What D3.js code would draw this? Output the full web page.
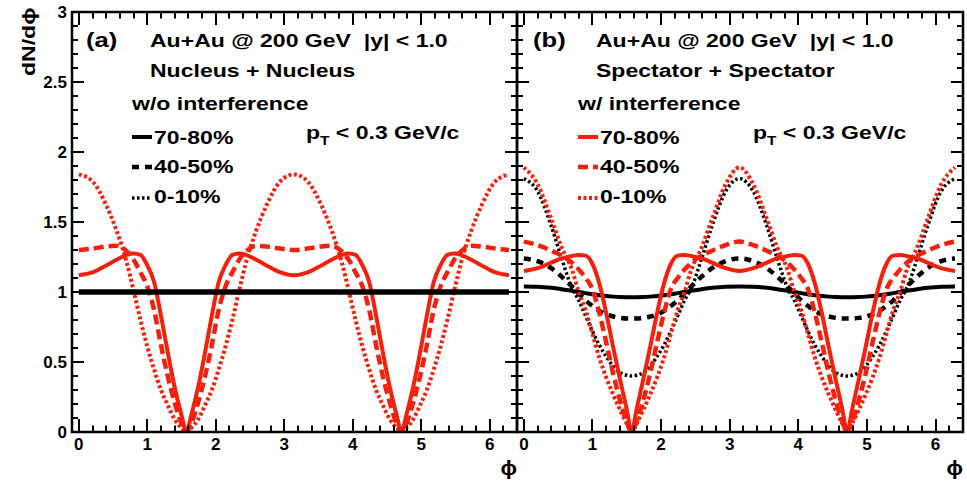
<!DOCTYPE html>
<html>
<head>
<meta charset="utf-8">
<script src="https://cdn.jsdelivr.net/npm/d3@7"></script>
<style>
  body { margin: 0; background: #fff; }
  svg { display: block; }
  text { font-family: "Liberation Sans", Arial, Helvetica, sans-serif; font-weight: bold; fill: #000; white-space: pre; }
</style>
</head>
<body>
<svg id="chart"></svg>
<script>
// phi grid (rad) the curves were read at
const phi = [0, 0.2, 0.4, 0.55, 0.7, 0.8, 0.9, 1.0, 1.1, 1.2, 1.3, 1.4, 1.5, 1.571,
  1.642, 1.742, 1.842, 1.942, 2.042, 2.142, 2.242, 2.342, 2.442, 2.592, 2.742, 2.942, 3.142,
  3.342, 3.542, 3.692, 3.842, 3.942, 4.042, 4.142, 4.242, 4.342, 4.442, 4.542, 4.642, 4.712,
  4.783, 4.883, 4.983, 5.083, 5.183, 5.283, 5.383, 5.483, 5.583, 5.733, 5.883, 6.083, 6.283]

// panel (a) Nucleus + Nucleus
const aFlat = [1, 1, 1, 1, 1, 1, 1, 1, 1, 1, 1, 1, 1, 1,
  1, 1, 1, 1, 1, 1, 1, 1, 1, 1, 1, 1, 1,
  1, 1, 1, 1, 1, 1, 1, 1, 1, 1, 1, 1, 1,
  1, 1, 1, 1, 1, 1, 1, 1, 1, 1, 1, 1, 1]
const aInt7080 = [1.12, 1.14, 1.19, 1.23, 1.265, 1.275, 1.265, 1.19, 1.07, 0.83, 0.565, 0.32, 0.12, 0,
  0.12, 0.32, 0.565, 0.83, 1.07, 1.19, 1.265, 1.275, 1.265, 1.23, 1.19, 1.14, 1.12,
  1.14, 1.19, 1.23, 1.265, 1.275, 1.265, 1.19, 1.07, 0.83, 0.565, 0.32, 0.12, 0,
  0.12, 0.32, 0.565, 0.83, 1.07, 1.19, 1.265, 1.275, 1.265, 1.23, 1.19, 1.14, 1.12]
const aInt4050 = [1.30, 1.31, 1.325, 1.33, 1.29, 1.23, 1.14, 1.04, 0.87, 0.62, 0.395, 0.21, 0.06, 0,
  0.06, 0.21, 0.395, 0.62, 0.87, 1.04, 1.14, 1.23, 1.29, 1.33, 1.325, 1.31, 1.30,
  1.31, 1.325, 1.33, 1.29, 1.23, 1.14, 1.04, 0.87, 0.62, 0.395, 0.21, 0.06, 0,
  0.06, 0.21, 0.395, 0.62, 0.87, 1.04, 1.14, 1.23, 1.29, 1.33, 1.325, 1.31, 1.30]
const aInt010 = [1.84, 1.79, 1.62, 1.44, 1.21, 1.01, 0.80, 0.61, 0.445, 0.30, 0.19, 0.09, 0.03, 0,
  0.03, 0.09, 0.19, 0.30, 0.445, 0.61, 0.80, 1.01, 1.21, 1.44, 1.62, 1.79, 1.84,
  1.79, 1.62, 1.44, 1.21, 1.01, 0.80, 0.61, 0.445, 0.30, 0.19, 0.09, 0.03, 0,
  0.03, 0.09, 0.19, 0.30, 0.445, 0.61, 0.80, 1.01, 1.21, 1.44, 1.62, 1.79, 1.84]

// panel (b) Spectator + Spectator
const bNo7080 = [1.04, 1.038, 1.03, 1.02, 1.008, 1.0, 0.992, 0.984, 0.977, 0.971, 0.967, 0.964, 0.963, 0.963,
  0.963, 0.964, 0.967, 0.971, 0.977, 0.984, 0.992, 1.0, 1.008, 1.02, 1.03, 1.038, 1.04,
  1.038, 1.03, 1.02, 1.008, 1.0, 0.992, 0.984, 0.977, 0.971, 0.967, 0.964, 0.963, 0.963,
  0.963, 0.964, 0.967, 0.971, 0.977, 0.984, 0.992, 1.0, 1.008, 1.02, 1.03, 1.038, 1.04]
const bNo4050 = [1.24, 1.22, 1.17, 1.11, 1.04, 0.99, 0.94, 0.90, 0.865, 0.84, 0.825, 0.815, 0.81, 0.81,
  0.81, 0.815, 0.825, 0.84, 0.865, 0.90, 0.94, 0.99, 1.04, 1.11, 1.17, 1.22, 1.24,
  1.22, 1.17, 1.11, 1.04, 0.99, 0.94, 0.90, 0.865, 0.84, 0.825, 0.815, 0.81, 0.81,
  0.81, 0.815, 0.825, 0.84, 0.865, 0.90, 0.94, 0.99, 1.04, 1.11, 1.17, 1.22, 1.24]
const bNo010 = [1.81, 1.72, 1.47, 1.24, 1.03, 0.94, 0.83, 0.72, 0.62, 0.54, 0.47, 0.425, 0.405, 0.40,
  0.405, 0.425, 0.47, 0.54, 0.62, 0.72, 0.83, 0.94, 1.03, 1.24, 1.47, 1.72, 1.81,
  1.72, 1.47, 1.24, 1.03, 0.94, 0.83, 0.72, 0.62, 0.54, 0.47, 0.425, 0.405, 0.40,
  0.405, 0.425, 0.47, 0.54, 0.62, 0.72, 0.83, 0.94, 1.03, 1.24, 1.47, 1.72, 1.81]
const bInt7080 = [1.15, 1.17, 1.21, 1.24, 1.257, 1.265, 1.26, 1.20, 1.06, 0.85, 0.61, 0.38, 0.16, 0,
  0.16, 0.38, 0.61, 0.85, 1.06, 1.20, 1.26, 1.265, 1.257, 1.24, 1.21, 1.17, 1.15,
  1.17, 1.21, 1.24, 1.257, 1.265, 1.26, 1.20, 1.06, 0.85, 0.61, 0.38, 0.16, 0,
  0.16, 0.38, 0.61, 0.85, 1.06, 1.20, 1.26, 1.265, 1.257, 1.24, 1.21, 1.17, 1.15]
const bInt4050 = [1.36, 1.335, 1.295, 1.26, 1.21, 1.16, 1.10, 1.02, 0.85, 0.64, 0.42, 0.23, 0.07, 0,
  0.07, 0.23, 0.42, 0.64, 0.85, 1.02, 1.10, 1.16, 1.21, 1.26, 1.295, 1.335, 1.36,
  1.335, 1.295, 1.26, 1.21, 1.16, 1.10, 1.02, 0.85, 0.64, 0.42, 0.23, 0.07, 0,
  0.07, 0.23, 0.42, 0.64, 0.85, 1.02, 1.10, 1.16, 1.21, 1.26, 1.295, 1.335, 1.36]
const bInt010 = [1.89, 1.77, 1.52, 1.32, 1.16, 1.0, 0.87, 0.70, 0.53, 0.39, 0.27, 0.16, 0.06, 0,
  0.06, 0.16, 0.27, 0.39, 0.53, 0.70, 0.87, 1.0, 1.16, 1.32, 1.52, 1.77, 1.89,
  1.77, 1.52, 1.32, 1.16, 1.0, 0.87, 0.70, 0.53, 0.39, 0.27, 0.16, 0.06, 0,
  0.06, 0.16, 0.27, 0.39, 0.53, 0.70, 0.87, 1.0, 1.16, 1.32, 1.52, 1.77, 1.89]

const legendLabels = ['70-80%', '40-50%', '0-10%']
const yTicks = [0, 0.5, 1, 1.5, 2, 2.5, 3]
const xTicks = [0, 1, 2, 3, 4, 5, 6]

const width = 967
const height = 482
const yTop = 12, yBottom = 432
const red = '#f4200c'
const sx = 1.28  // the text in the figure is drawn wide

const styles = {
  solid: {w: 4, dash: null},
  dash: {w: 4.5, dash: '10,5'},
  dot: {w: 4, dash: '3,2.5'},
  bdash: {w: 4.5, dash: '7,6'},
  bdot: {w: 3.5, dash: '2.5,2.5'},
  flat: {w: 5.5, dash: null}
}

const panels = [
  {
    left: 72, right: 517, tag: '(a)', line2: 'Nucleus + Nucleus', line3: 'w/o interference',
    tagX: 86, txtX: 150, l3X: 132, legX: 132, ptX: 306, yLabels: true,
    legend: [['#000', 'solid'], ['#000', 'bdash'], ['#000', 'bdot']],
    series: [
      {v: aInt7080, c: red, s: 'solid'},
      {v: aInt4050, c: red, s: 'dash'},
      {v: aInt010, c: red, s: 'dot'},
      {v: aFlat, c: '#000', s: 'flat'}
    ]
  },
  {
    left: 517, right: 963, tag: '(b)', line2: 'Spectator + Spectator', line3: 'w/ interference',
    tagX: 533, txtX: 596, l3X: 578, legX: 578, ptX: 753, yLabels: false,
    legend: [[red, 'solid'], [red, 'dash'], [red, 'dot']],
    series: [
      {v: bNo7080, c: '#000', s: 'solid'},
      {v: bNo4050, c: '#000', s: 'bdash'},
      {v: bNo010, c: '#000', s: 'bdot'},
      {v: bInt7080, c: red, s: 'solid'},
      {v: bInt4050, c: red, s: 'dash'},
      {v: bInt010, c: red, s: 'dot'}
    ]
  }
]

const svg = d3.select('#chart').attr('width', width).attr('height', height)

const y = d3.scaleLinear().domain([0, 3]).range([yBottom, yTop])

function wideText(g, x, yy, str, size) {
  return g.append('text')
    .attr('transform', `translate(${x},${yy}) scale(${sx},1)`)
    .attr('font-size', size)
    .text(str)
}

panels.forEach((p, pi) => {
  const x = d3.scaleLinear().domain([-0.1, 6.4]).range([p.left, p.right])
  const g = svg.append('g')

  const clipId = 'clip' + pi
  svg.append('clipPath').attr('id', clipId).append('rect')
    .attr('x', p.left).attr('y', yTop).attr('width', p.right - p.left).attr('height', yBottom - yTop)

  // curves
  const line = d3.line()
    .x(d => x(d[0]))
    .y(d => y(d[1]))
    .curve(d3.curveMonotoneX)

  g.append('g').attr('clip-path', `url(#${clipId})`)
    .selectAll('path').data(p.series).enter().append('path')
    .attr('d', d => line(d3.zip(phi, d.v)))
    .attr('fill', 'none')
    .attr('stroke', d => d.c)
    .attr('stroke-width', d => styles[d.s].w)
    .attr('stroke-dasharray', d => styles[d.s].dash)

  // tick labels
  g.selectAll('text.xl').data(xTicks).enter().append('text')
    .attr('x', d => x(d)).attr('y', 450)
    .attr('text-anchor', 'middle').attr('font-size', 17)
    .text(d3.format('d'))
  if (p.yLabels) {
    g.selectAll('text.yl').data(yTicks).enter().append('text')
      .attr('x', p.left - 5).attr('y', d => y(d)).attr('dy', '0.36em')
      .attr('text-anchor', 'end').attr('font-size', 17)
      .text(d3.format('~g'))
  }

  // frame
  g.append('rect')
    .attr('x', p.left).attr('y', yTop)
    .attr('width', p.right - p.left).attr('height', yBottom - yTop)
    .attr('fill', 'none').attr('stroke', '#000').attr('stroke-width', 2.5)

  // ticks, ROOT style (inside, on all four sides), one path
  const minorX = d3.range(0, 6.41, 0.2).filter(v => Math.abs(v - Math.round(v)) > 0.01)
  const minorY = d3.range(0, 3.01, 0.1).filter(v => Math.abs(v * 2 - Math.round(v * 2)) > 0.01)
  const tp = d3.path()
  xTicks.map(v => [v, 13]).concat(minorX.map(v => [v, 6.5])).forEach(([v, len]) => {
    const px = Math.round(x(v))
    tp.moveTo(px, yBottom); tp.lineTo(px, yBottom - len)
    tp.moveTo(px, yTop); tp.lineTo(px, yTop + len)
  })
  yTicks.map(v => [v, 12]).concat(minorY.map(v => [v, 6])).forEach(([v, len]) => {
    const py = Math.round(y(v))
    tp.moveTo(p.left, py); tp.lineTo(p.left + len, py)
    tp.moveTo(p.right, py); tp.lineTo(p.right - len, py)
  })
  g.append('path')
    .attr('d', tp.toString())
    .attr('fill', 'none')
    .attr('stroke', '#000')
    .attr('stroke-width', 2)

  // x axis title
  g.append('text')
    .attr('x', p.right).attr('y', 475)
    .attr('text-anchor', 'end').attr('font-size', 20)
    .attr('transform', `translate(${p.right},0) scale(1.1,1) translate(${-p.right},0)`)
    .text('ϕ')

  // labels inside the frame
  wideText(g, p.tagX, 47, p.tag, 20)
  wideText(g, p.txtX, 47, 'Au+Au @ 200 GeV  |y| < 1.0', 18)
  wideText(g, p.txtX, 77, p.line2, 18)
  wideText(g, p.l3X, 110, p.line3, 18)

  const pt = g.append('text')
    .attr('transform', `translate(${p.ptX},139) scale(${sx},1)`)
    .attr('font-size', 18)
  pt.append('tspan').text('p')
  pt.append('tspan').attr('font-size', 12).attr('dy', 6).text('T')
  pt.append('tspan').attr('dy', -6).text(' < 0.3 GeV/c')

  // legend
  const legY = [137, 167, 198]
  const legBase = [144, 173, 203]
  p.legend.forEach(([c, s], i) => {
    g.append('line')
      .attr('x1', p.legX).attr('x2', p.legX + 20)
      .attr('y1', legY[i]).attr('y2', legY[i])
      .attr('stroke', c).attr('stroke-width', styles[s].w)
      .attr('stroke-dasharray', styles[s].dash)
    wideText(g, p.legX + 22, legBase[i], legendLabels[i], 18)
  })
})

// y axis title
svg.append('text')
  .attr('transform', `translate(35,76) rotate(-90) scale(${sx},1)`)
  .attr('font-size', 18)
  .text('dN/dϕ')
</script>
</body>
</html>
